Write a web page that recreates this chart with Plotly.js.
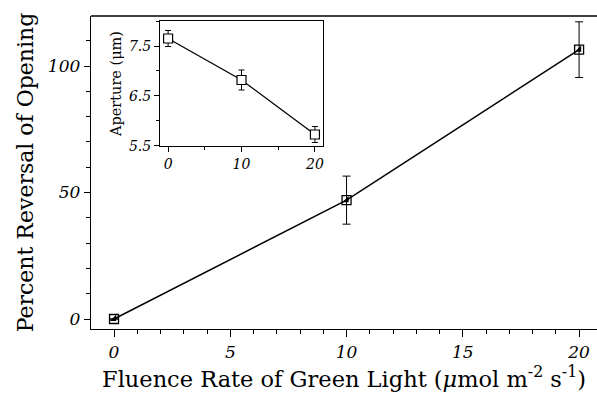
<!DOCTYPE html>
<html>
<head>
<meta charset="utf-8">
<script src="https://cdn.plot.ly/plotly-3.0.1.min.js"></script>
<style>html,body{margin:0;padding:0;background:#fff;overflow:hidden}#chart{width:597px;height:393px}</style>
</head>
<body>
<div id="chart"></div>
<script>
// Main panel: percent reversal of opening vs fluence rate
const fluence = [0, 10, 20];
const reversal = [0, 47, 106.5];
const reversalErr = [0, 9.5, 11];

// Inset: aperture vs fluence rate
const insetFluence = [0, 10, 20];
const aperture = [7.65, 6.82, 5.73];
const apertureErr = [0.16, 0.2, 0.16];

const serif = 'DejaVu Serif, Liberation Serif, serif';

const traces = [
  {
    x: fluence, y: reversal, type: 'scatter', mode: 'lines+markers',
    line: {color: '#000', width: 1.5},
    marker: {symbol: 'square-open', size: 9, color: '#000', line: {width: 1.3, color: '#000'}},
    error_y: {type: 'data', array: reversalErr, visible: true, color: '#000', thickness: 1, width: 4},
    xaxis: 'x', yaxis: 'y', hoverinfo: 'none'
  },
  {
    x: fluence, y: reversal, type: 'scatter', mode: 'markers',
    marker: {symbol: 'triangle-se', size: 7, color: '#000', line: {width: 0}},
    xaxis: 'x', yaxis: 'y', hoverinfo: 'none'
  },
  {
    x: insetFluence, y: aperture, type: 'scatter', mode: 'lines+markers',
    line: {color: '#000', width: 1.3},
    marker: {symbol: 'square', size: 9, color: '#fff', line: {width: 1.2, color: '#000'}},
    error_y: {type: 'data', array: apertureErr, visible: true, color: '#000', thickness: 1, width: 3},
    xaxis: 'x2', yaxis: 'y2', hoverinfo: 'none'
  }
];

const layout = {
  width: 597, height: 393,
  margin: {l: 91, r: 0, t: 16, b: 64},
  paper_bgcolor: '#fff', plot_bgcolor: '#fff',
  showlegend: false,
  font: {family: serif, color: '#000'},
  shapes: [
    {type: 'line', xref: 'paper', yref: 'paper', x0: 0, x1: 1, y0: 1, y1: 1, line: {color: '#000', width: 1.3}}
  ],
  xaxis: {
    range: [-0.99, 20.77], showgrid: false, zeroline: false,
    showline: true, linecolor: '#000', linewidth: 1.3, mirror: false,
    ticks: 'outside', ticklen: 7, tickcolor: '#000', tickwidth: 1,
    tickvals: [0, 5, 10, 15, 20],
    minor: {tickvals: [1,2,3,4,6,7,8,9,11,12,13,14,16,17,18,19], ticklen: 4, tickcolor: '#000', ticks: 'outside', showgrid: false},
    tickfont: {family: serif, size: 17, style: 'italic'},
    title: {text: 'Fluence Rate of Green Light (<i>μ</i>mol m<sup>-2</sup> s<sup>-1</sup>)', font: {family: serif, size: 22.5}, standoff: 10},
    automargin: false
  },
  yaxis: {
    range: [-3.95, 119.8], showgrid: false, zeroline: false,
    showline: true, linecolor: '#000', linewidth: 1.3, mirror: false,
    ticks: 'outside', ticklen: 6, tickcolor: '#000', tickwidth: 1,
    tick0: 0, dtick: 50,
    minor: {dtick: 10, ticklen: 4, tickcolor: '#000', ticks: 'outside', showgrid: false},
    tickfont: {family: serif, size: 17, style: 'italic'},
    title: {text: 'Percent Reversal of Opening', font: {family: serif, size: 22}, standoff: 8},
    automargin: false
  },
  xaxis2: {
    domain: [0.1364, 0.4585], anchor: 'y2',
    range: [-1.1, 21.1], showgrid: false, zeroline: false,
    showline: true, linecolor: '#000', linewidth: 1, mirror: true,
    ticks: 'outside', ticklen: 5, tickcolor: '#000', tickwidth: 1,
    tick0: 0, dtick: 10,
    minor: {dtick: 5, ticklen: 3, tickcolor: '#000', ticks: 'outside', showgrid: false},
    tickfont: {family: serif, size: 14, style: 'italic'}
  },
  yaxis2: {
    domain: [0.5847, 0.984], anchor: 'x2',
    range: [5.5, 8.0], showgrid: false, zeroline: false,
    showline: true, linecolor: '#000', linewidth: 1, mirror: true,
    ticks: 'outside', ticklen: 5, tickcolor: '#000', tickwidth: 1,
    tick0: 5.5, dtick: 1,
    minor: {dtick: 0.5, ticklen: 3, tickcolor: '#000', ticks: 'outside', showgrid: false},
    tickfont: {family: serif, size: 14, style: 'italic'},
    title: {text: 'Aperture (μm)', font: {family: serif, size: 14.5}, standoff: 3}
  }
};

Plotly.newPlot('chart', traces, layout, {staticPlot: true, displayModeBar: false});
</script>
</body>
</html>
